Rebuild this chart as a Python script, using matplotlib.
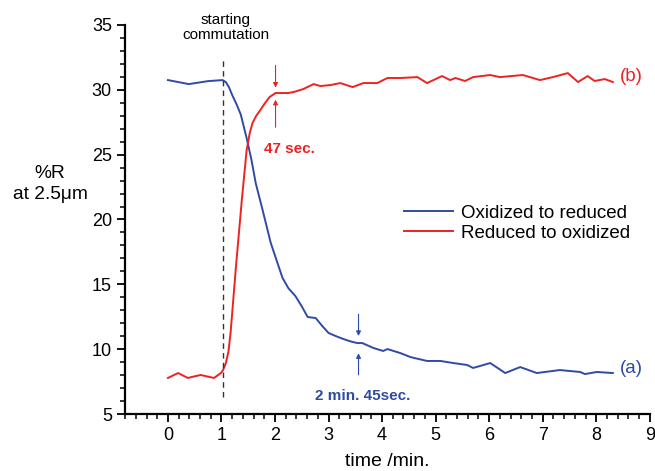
import matplotlib
matplotlib.use("Agg")
import matplotlib.pyplot as plt
from matplotlib.ticker import MultipleLocator

plt.rcParams['font.family'] = ['Liberation Sans', 'DejaVu Sans']

# Curve (a): oxidized -> reduced
t_a = [0.00, 0.19, 0.39, 0.75, 1.02, 1.08, 1.14, 1.20, 1.28, 1.36, 1.47, 1.56,
       1.64, 1.77, 1.92, 2.05, 2.14, 2.25, 2.38, 2.50, 2.61, 2.76, 2.88, 3.00,
       3.14, 3.28, 3.41, 3.54, 3.63, 3.84, 4.02, 4.10, 4.34, 4.53, 4.84, 5.09,
       5.33, 5.59, 5.70, 6.02, 6.30, 6.58, 6.89, 7.32, 7.70, 7.79, 8.01, 8.31]
r_a = [30.75, 30.60, 30.44, 30.67, 30.75, 30.60, 30.20, 29.60, 28.90, 28.10, 26.28, 24.60,
       22.80, 20.70, 18.20, 16.60, 15.50, 14.70, 14.10, 13.30, 12.48, 12.40, 11.80, 11.25,
       11.00, 10.78, 10.60, 10.47, 10.47, 10.09, 9.86, 10.01, 9.70, 9.39, 9.09, 9.09,
       8.93, 8.78, 8.55, 8.93, 8.16, 8.62, 8.16, 8.39, 8.24, 8.08, 8.24, 8.16]

# Curve (b): reduced -> oxidized
t_b = [0.00, 0.19, 0.37, 0.61, 0.86, 0.99, 1.03, 1.08, 1.13, 1.17, 1.27, 1.38,
       1.47, 1.53, 1.58, 1.65, 1.72, 1.80, 1.90, 2.01, 2.24, 2.35, 2.53, 2.72,
       2.85, 3.04, 3.22, 3.45, 3.65, 3.91, 4.10, 4.34, 4.66, 4.84, 5.12, 5.27,
       5.37, 5.55, 5.70, 6.02, 6.20, 6.63, 6.95, 7.19, 7.47, 7.66, 7.84, 7.97,
       8.16, 8.31]
r_b = [7.78, 8.16, 7.78, 8.01, 7.78, 8.16, 8.39, 8.90, 9.80, 11.25, 16.33, 21.50,
       25.35, 26.70, 27.44, 28.00, 28.40, 28.90, 29.45, 29.75, 29.75, 29.83, 30.06, 30.44,
       30.29, 30.37, 30.52, 30.21, 30.52, 30.52, 30.91, 30.91, 30.98, 30.52, 31.06, 30.75,
       30.91, 30.68, 30.98, 31.14, 30.98, 31.14, 30.75, 30.98, 31.29, 30.60, 31.06, 30.68,
       30.83, 30.60]

labels = ["Oxidized to reduced", "Reduced to oxidized"]
blue = "#2f4ba5"
red = "#ee2222"

fig = plt.figure(figsize=(6.55, 4.71), dpi=100)
ax = fig.add_axes([0.191, 0.121, 0.801, 0.826])

ax.plot(t_a, r_a, color=blue, lw=1.4, label=labels[0])
ax.plot(t_b, r_b, color=red, lw=1.4, label=labels[1])

# start of commutation
ax.plot([1.03, 1.03], [6.3, 32.5], color="#333333", lw=1.0, ls=(0, (4, 3)))
ax.text(1.08, 34.8, "starting\ncommutation", ha="center", va="center",
        fontsize=11, linespacing=1.1)

# response time markers
ap_r = dict(arrowstyle="-|>", color=red, lw=0.8, mutation_scale=7)
ax.annotate("", xy=(2.01, 29.95), xytext=(2.01, 32.1), arrowprops=ap_r)
ax.annotate("", xy=(2.01, 29.45), xytext=(2.01, 26.9), arrowprops=ap_r)
ax.text(2.27, 25.4, "47 sec.", color=red, fontsize=11, fontweight="bold",
        ha="center", va="center")

ap_b = dict(arrowstyle="-|>", color=blue, lw=0.8, mutation_scale=7)
ax.annotate("", xy=(3.56, 10.8), xytext=(3.56, 12.9), arrowprops=ap_b)
ax.annotate("", xy=(3.56, 9.9), xytext=(3.56, 7.8), arrowprops=ap_b)
ax.text(3.64, 6.4, "2 min. 45sec.", color=blue, fontsize=11, fontweight="bold",
        ha="center", va="center")

ax.text(8.45, 31.0, "(b)", color=red, fontsize=13.5, va="center")
ax.text(8.45, 8.5, "(a)", color=blue, fontsize=13.5, va="center")

ax.set_xlim(-0.8, 9)
ax.set_ylim(5, 35)
ax.xaxis.set_major_locator(MultipleLocator(1))
ax.xaxis.set_minor_locator(MultipleLocator(0.2))
ax.yaxis.set_major_locator(MultipleLocator(5))
ax.yaxis.set_minor_locator(MultipleLocator(1))
ax.set_xticks(range(0, 10))
ax.tick_params(which="major", direction="out", length=6, width=1.3, labelsize=13)
ax.tick_params(which="minor", direction="out", length=3.5, width=1.1)

for s in ["top", "right"]:
    ax.spines[s].set_visible(False)
for s in ["left", "bottom"]:
    ax.spines[s].set_linewidth(1.6)

ax.set_xlabel("time /min.", fontsize=14, labelpad=6)
fig.text(50 / 655, 1 - 184 / 471, "%R\nat 2.5μm", ha="center", va="center",
         fontsize=13.8, linespacing=1.35)

ax.legend(loc="center left", bbox_to_anchor=(0.531, 0.49), frameon=False,
          fontsize=13.5, handlelength=2.65, handletextpad=0.4,
          labelspacing=0.15, borderpad=0, borderaxespad=0)

fig.savefig("out.png", dpi=100)
